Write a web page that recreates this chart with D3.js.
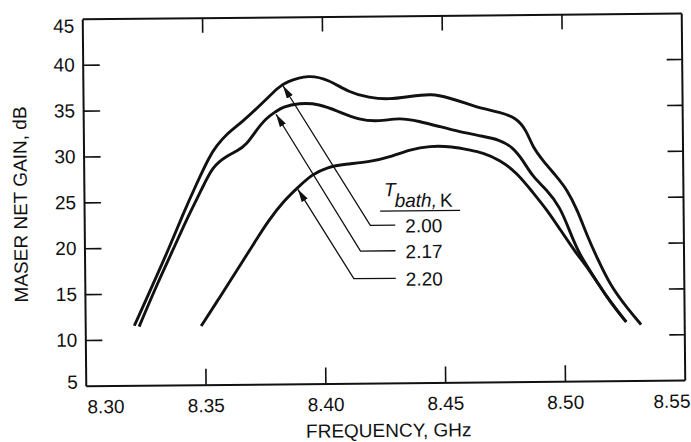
<!DOCTYPE html>
<html><head><meta charset="utf-8">
<script src="https://cdn.jsdelivr.net/npm/d3@7"></script>
<style>
body{margin:0;background:#fff}
svg text{font-family:"Liberation Sans",Arial,Helvetica,sans-serif;fill:#111}
</style>
</head><body>
<svg id="chart" width="691" height="442"></svg>
<script>
// ---- data ----
const xTickValues = [8.30, 8.35, 8.40, 8.45, 8.50, 8.55];
const yTickValues = [5, 10, 15, 20, 25, 30, 35, 40, 45];
const bathTemps = ["2.00", "2.17", "2.20"];

const freqT200 = [8.3205,8.3288,8.3351,8.3409,8.3472,8.3526,8.3555,8.3597,8.3664,8.3747,8.3818,8.3847,8.3943,8.4027,8.4110,8.4194,8.4277,8.4361,8.4457,8.4528,8.4611,8.4665,8.4736,8.4807,8.4849,8.4874,8.4916,8.4974,8.5016,8.5058,8.5099,8.5141,8.5195,8.5266,8.5320];
const gainT200 = [11.5,16.2,19.8,23.4,27.0,29.9,31.0,32.3,33.6,35.6,37.4,37.9,38.7,38.1,36.7,36.1,35.9,36.2,36.5,36.0,35.3,34.8,34.4,33.8,32.4,30.6,29.1,27.3,25.9,23.7,20.8,18.3,15.3,12.8,11.1];

const freqT217 = [8.3225,8.3305,8.3371,8.3434,8.3492,8.3538,8.3597,8.3639,8.3680,8.3722,8.3764,8.3805,8.3831,8.3902,8.3985,8.4068,8.4152,8.4235,8.4319,8.4402,8.4486,8.4569,8.4665,8.4736,8.4790,8.4832,8.4874,8.4932,8.4987,8.5028,8.5062,8.5112,8.5183,8.5258];
const gainT217 = [11.4,16.2,19.8,23.4,26.3,28.8,29.9,30.4,31.1,32.7,34.0,34.7,35.2,35.6,35.5,34.6,33.7,33.5,33.9,33.5,32.9,32.3,31.8,31.4,30.6,29.2,27.3,25.9,24.0,21.2,19.0,16.9,13.9,11.4];

const freqT220 = [8.3484,8.3555,8.3622,8.3714,8.3768,8.3839,8.3893,8.3952,8.4018,8.4089,8.4194,8.4290,8.4361,8.4444,8.4540,8.4611,8.4665,8.4736,8.4807,8.4874,8.4932,8.4987,8.5041,8.5062,8.5112,8.5183,8.5258];
const gainT220 = [11.4,14.2,16.9,20.6,22.8,25.1,26.4,27.8,28.6,28.9,29.1,29.7,30.4,30.8,30.7,30.3,30.0,29.2,27.8,25.6,23.7,21.5,19.4,18.6,16.9,13.9,11.4];

// annotation anchors (data units): arrow tip, elbow, leader end
const tipFreq = [8.3835, 8.3805, 8.3893];
const tipGain = [37.5, 34.4, 26.2];
const elbowFreq = [8.4194, 8.4152, 8.4123];
const elbowGain = [22.2, 19.4, 16.4];
const leaderEndFreq = 8.4298;

// ---- chart ----
const svg = d3.select("#chart");
const root = svg.append("g").attr("transform", "rotate(-0.55 383 200)");

const x = d3.scaleLinear().domain([8.30, 8.55]).range([84, 683]);
const y = d3.scaleLinear().domain([5, 45]).range([383, 16]);

const defs = svg.append("defs");
defs.append("marker").attr("id", "ah")
  .attr("viewBox", "0 0 13 7").attr("refX", 13).attr("refY", 3.5)
  .attr("markerWidth", 13).attr("markerHeight", 7)
  .attr("markerUnits", "userSpaceOnUse").attr("orient", "auto-start-reverse")
  .append("path").attr("d", "M0,0 L13,3.5 L0,7 Z").attr("fill", "#111");

const inner = v => v !== xTickValues[0] && v !== xTickValues[xTickValues.length - 1];
const innerY = v => v !== yTickValues[0] && v !== yTickValues[yTickValues.length - 1];

function styleAxis(g) {
  g.attr("font-size", 19).attr("font-family", null);
  g.select(".domain").attr("stroke", "#111").attr("stroke-width", 2);
  g.selectAll(".tick line").attr("stroke", "#111").attr("stroke-width", 1.6);
  g.selectAll(".tick text").attr("fill", "#111");
}

// bottom
const gx = root.append("g").attr("transform", `translate(0,${y(5)})`)
  .call(d3.axisBottom(x).tickValues(xTickValues).tickFormat(d3.format(".2f"))
    .tickSizeInner(-16).tickSizeOuter(0).tickPadding(14));
styleAxis(gx);
gx.selectAll(".tick").filter(d => !inner(d)).select("line").remove();
gx.selectAll(".tick text").filter(d => d === xTickValues[0]).attr("text-anchor", "start").attr("x", 1);
gx.selectAll(".tick text").filter(d => d === xTickValues[xTickValues.length - 1]).attr("text-anchor", "end").attr("x", 5);

// top
const gt = root.append("g").attr("transform", `translate(0,${y(45)})`)
  .call(d3.axisTop(x).tickValues(xTickValues.filter(inner)).tickFormat("")
    .tickSizeInner(-15).tickSizeOuter(0));
styleAxis(gt);

// left
const gy = root.append("g").attr("transform", `translate(${x(8.30)},0)`)
  .call(d3.axisLeft(y).tickValues(yTickValues).tickFormat(d3.format("d"))
    .tickSizeInner(-17).tickSizeOuter(0).tickPadding(8));
styleAxis(gy);
gy.selectAll(".tick").filter(d => !innerY(d)).select("line").remove();
gy.selectAll(".tick text").filter(d => d === 45).attr("y", 7);
gy.selectAll(".tick text").filter(d => d === 5).attr("y", -4);

// right
const gr = root.append("g").attr("transform", `translate(${x(8.55)},0)`)
  .call(d3.axisRight(y).tickValues(yTickValues.filter(innerY)).tickFormat("")
    .tickSizeInner(-15).tickSizeOuter(0));
styleAxis(gr);

// axis titles
root.append("text").attr("x", (x(8.30) + x(8.55)) / 2 + 3).attr("y", 437)
  .attr("text-anchor", "middle").attr("font-size", 19).text("FREQUENCY, GHz");
root.append("text").attr("transform", `translate(27,201) rotate(-90)`)
  .attr("text-anchor", "middle").attr("font-size", 19).text("MASER NET GAIN, dB");

// curves
const series = [
  d3.zip(freqT200, gainT200),
  d3.zip(freqT217, gainT217),
  d3.zip(freqT220, gainT220)
];
const line = d3.line().x(d => x(d[0])).y(d => y(d[1])).curve(d3.curveBasis);
root.selectAll("path.curve").data(series).join("path").attr("class", "curve")
  .attr("d", line).attr("fill", "none").attr("stroke", "#111")
  .attr("stroke-width", 2.9).attr("stroke-linejoin", "round");

// leaders with arrows
bathTemps.forEach((t, i) => {
  const pts = [[tipFreq[i], tipGain[i]], [elbowFreq[i], elbowGain[i]], [leaderEndFreq, elbowGain[i]]];
  root.append("path")
    .attr("d", d3.line().x(d => x(d[0])).y(d => y(d[1]))(pts))
    .attr("fill", "none").attr("stroke", "#111").attr("stroke-width", 1.3)
    .attr("marker-start", "url(#ah)");
  root.append("text").attr("x", x(leaderEndFreq) + 10).attr("y", y(elbowGain[i]) + 7.5)
    .attr("font-size", 19).text(t);
});

// legend title
const titleX = x(leaderEndFreq) - 11;
const titleBase = y(elbowGain[0]) - 18;
const tt = root.append("text").attr("x", titleX).attr("y", titleBase - 11).attr("font-size", 19);
tt.append("tspan").attr("font-style", "italic").text("T");
tt.append("tspan").attr("font-style", "italic").attr("dy", 11).attr("dx", -1).text("bath,");
tt.append("tspan").attr("dx", 3).text("K");
root.append("line").attr("x1", titleX - 4).attr("x2", titleX + 76)
  .attr("y1", titleBase + 4).attr("y2", titleBase + 4)
  .attr("stroke", "#111").attr("stroke-width", 1.3);
</script>
</body></html>
